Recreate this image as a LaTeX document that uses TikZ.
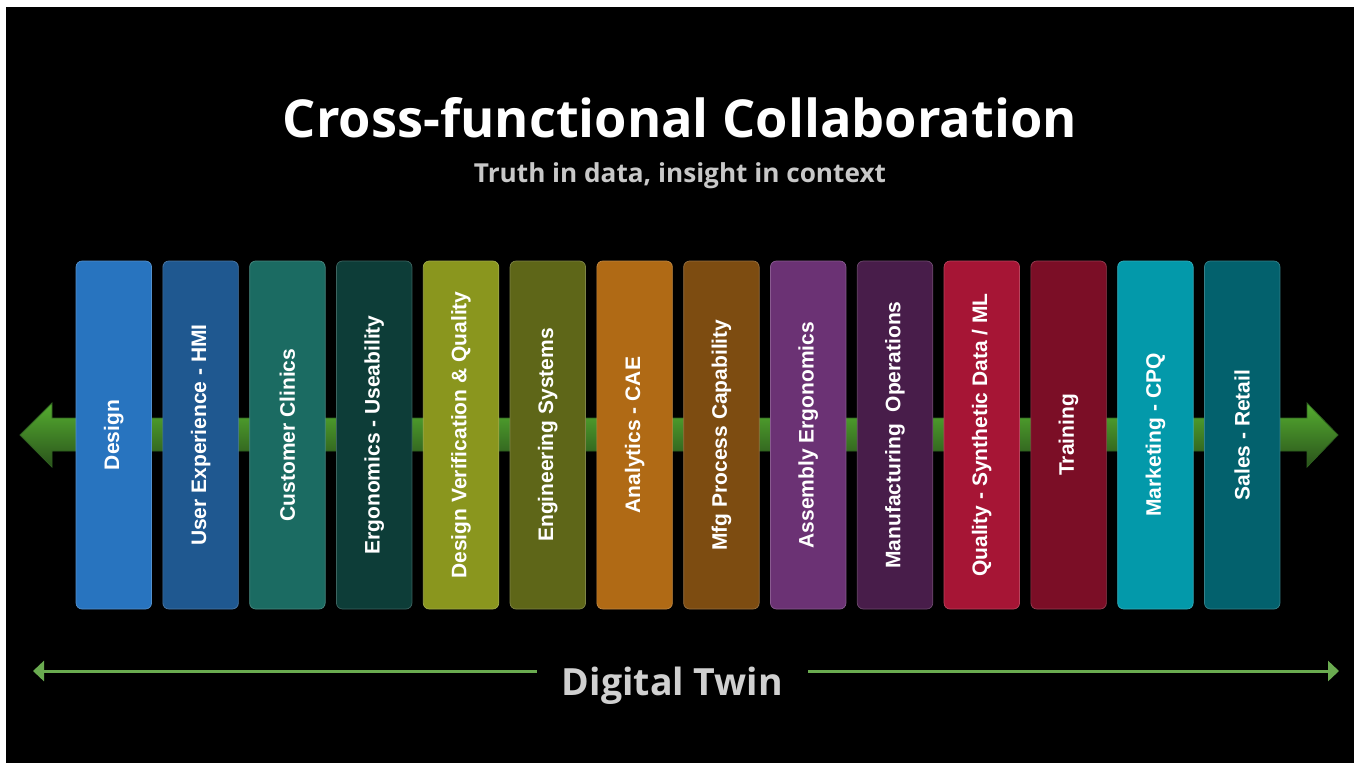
\documentclass[tikz,border=0pt]{standalone}
\usepackage{fontspec}
\setmainfont{Liberation Sans}
\newfontfamily\headfont{Open Sans}
\usetikzlibrary{arrows.meta}
\definecolor{cA}{HTML}{2874BF}
\definecolor{cB}{HTML}{1F5890}
\definecolor{cC}{HTML}{1B6B62}
\definecolor{cD}{HTML}{0D3D38}
\definecolor{cE}{HTML}{8A961E}
\definecolor{cF}{HTML}{5E6618}
\definecolor{cG}{HTML}{B06A15}
\definecolor{cH}{HTML}{7D4C11}
\definecolor{cI}{HTML}{6B3274}
\definecolor{cJ}{HTML}{481D4A}
\definecolor{cK}{HTML}{A61535}
\definecolor{cL}{HTML}{7B0E26}
\definecolor{cM}{HTML}{0399AA}
\definecolor{cN}{HTML}{03616D}
\definecolor{arrtop}{HTML}{55AE30}
\definecolor{arrbot}{HTML}{2A521B}
\definecolor{arredge}{HTML}{2F6020}
\definecolor{dtline}{HTML}{6AAB50}
\definecolor{subgray}{HTML}{C8C8C8}
\definecolor{dtgray}{HTML}{D0D0D0}
\tikzset{
  colbox/.style={rotate=90, minimum width=348pt, minimum height=75.5pt,
    rounded corners=6pt, inner sep=0pt, text=white,
    font=\fontsize{21}{25}\selectfont\bfseries,
    fill=#1, draw=#1!80!white, line width=0.7pt},
  dtarrow/.style={draw=dtline, line width=3pt,
    -{Triangle[length=11pt,width=20pt]}}
}
\begin{document}
\begin{tikzpicture}[x=1pt,y=-1pt]
\useasboundingbox (0,0) rectangle (1354,763);
\fill[white] (0,0) rectangle (1354,763);
\fill[black] (6,7) rectangle (1354,763);

% title and subtitle
\node[anchor=base, text=white, inner sep=0pt] (title) at (680,137)
  {\resizebox{794pt}{!}{\headfont\bfseries Cross-functional Collaboration}};
\node[anchor=base, text=subgray, inner sep=0pt] (subtitle) at (680,182)
  {\resizebox{412pt}{!}{\headfont\bfseries Truth in data, insight in context}};

% big double arrow
\shade[top color=arrtop, bottom color=arrbot, draw=arredge, line width=0.8pt]
  (20,435) -- (52,403) -- (52,418) -- (1307,418) -- (1307,403) -- (1338,435)
  -- (1307,467) -- (1307,451) -- (52,451) -- (52,467) -- cycle;

% columns
\node[colbox=cA] (n1)  at (113.8,435) {Design};
\node[colbox=cB] (n2)  at (200.6,435) {User Experience - HMI};
\node[colbox=cC] (n3)  at (287.4,435) {Customer Clinics};
\node[colbox=cD] (n4)  at (374.2,435) {Ergonomics - Useability};
\node[colbox=cE] (n5)  at (461.0,435) {Design Verification \& Quality};
\node[colbox=cF] (n6)  at (547.8,435) {Engineering Systems};
\node[colbox=cG] (n7)  at (634.6,435) {Analytics - CAE};
\node[colbox=cH] (n8)  at (721.4,435) {Mfg Process Capability};
\node[colbox=cI] (n9)  at (808.2,435) {Assembly Ergonomics};
\node[colbox=cJ] (n10) at (895.0,435) {Manufacturing\ \ Operations};
\node[colbox=cK] (n11) at (981.8,435) {Quality - Synthetic Data / ML};
\node[colbox=cL] (n12) at (1068.6,435) {Training};
\node[colbox=cM] (n13) at (1155.4,435) {Marketing - CPQ};
\node[colbox=cN] (n14) at (1242.2,435) {Sales - Retail};

% Digital Twin
\node[anchor=base, text=dtgray, inner ysep=0pt, inner xsep=25pt] (dt) at (672.5,695)
  {\resizebox{221pt}{!}{\headfont\bfseries Digital Twin}};
\coordinate (lt) at (33,671);
\coordinate (rt) at (1339,671);
\draw[dtarrow] (dt.west |- lt) -- (lt);
\draw[dtarrow] (dt.east |- rt) -- (rt);
\end{tikzpicture}
\end{document}
